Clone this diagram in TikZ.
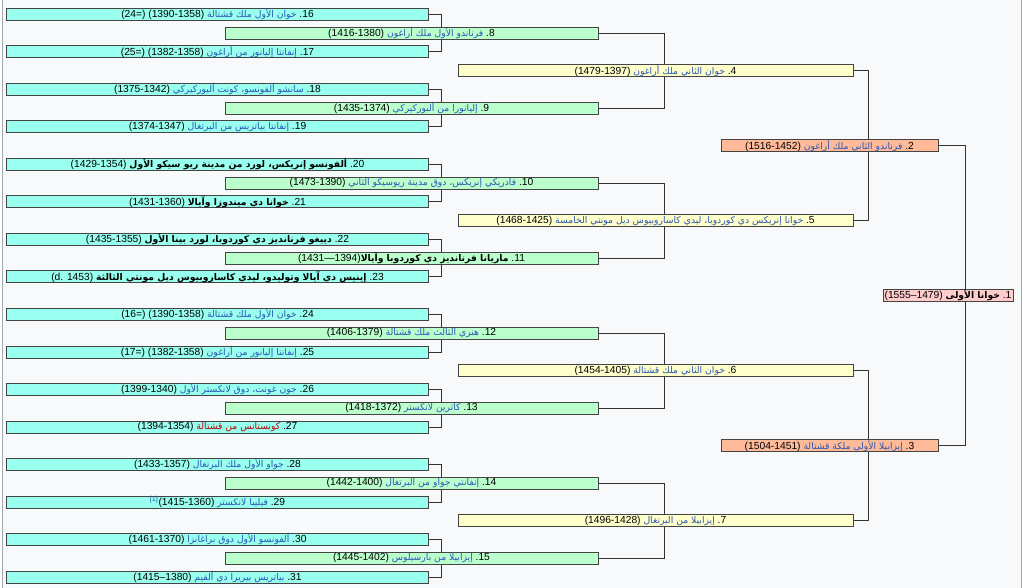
\documentclass[tikz,border=0pt]{standalone}
\usepackage{fontspec}
\setmainfont{Liberation Sans}
\newfontfamily\arabicfont[Script=Arabic,Scale=0.9]{DejaVu Sans}
\TeXXeTstate=1
\usepackage{tikz}
\pgfdeclarelayer{paper}
\pgfdeclarelayer{wires}
\pgfsetlayers{paper,wires,main}

\definecolor{pagebg}{HTML}{F8F9FA}
\definecolor{framecol}{HTML}{A2A9B1}
\definecolor{boxline}{HTML}{444444}
\definecolor{wirecol}{HTML}{333333}
\definecolor{col1}{HTML}{FFCCCC}
\definecolor{col2}{HTML}{FFBB99}
\definecolor{col3}{HTML}{FFFFCC}
\definecolor{col4}{HTML}{BBFFCC}
\definecolor{col5}{HTML}{99FFEE}
\definecolor{linkblue}{HTML}{2A55B5}
\definecolor{linkred}{HTML}{BA0000}

% arabic name spans
\newcommand{\lnk}[1]{{\color{linkblue}\arabicfont\beginR #1\endR}}
\newcommand{\redlnk}[1]{{\color{linkred}\arabicfont\beginR #1\endR}}
\newcommand{\bld}[1]{{\arabicfont\bfseries\beginR #1\endR}}

\tikzset{
  person/.style={draw=boxline, line width=0.25mm, inner sep=0pt, outer sep=0pt,
    minimum height=3mm, font=\fontsize{7.3}{8}\selectfont},
  gen1/.style={person, fill=col1, minimum width=32.5mm},
  gen2/.style={person, fill=col2, minimum width=54.25mm},
  gen3/.style={person, fill=col3, minimum width=98.75mm},
  gen4/.style={person, fill=col4, minimum width=93.25mm},
  gen5/.style={person, fill=col5, minimum width=105.25mm},
  wire/.style={draw=wirecol, line width=0.25mm},
}

\begin{document}
\begin{tikzpicture}[x=0.25mm,y=-0.25mm]
    \useasboundingbox (0,0) rectangle (1024,588);
    \begin{pgfonlayer}{paper}
      \fill[pagebg] (2,0) rectangle (1021.5,588);
      \draw[framecol,line width=0.25mm] (2,0) -- (2,588) (1021.5,0) -- (1021.5,588);
    \end{pgfonlayer}
        \pgfmathsetmacro{\xa}{948}
        \pgfmathsetmacro{\xb}{829.5}
        \pgfmathsetmacro{\xc}{655.5}
        \pgfmathsetmacro{\xd}{411.5}
        \pgfmathsetmacro{\xe}{217.5}
    % generation 1 and 2
    \node[gen1] (p1) at (\xa,295.75) {(1555–1479) \bld{خوانا الأولى} .1};
    \node[gen2] (p2) at (\xb,145.75) {(1516-1452) \lnk{فرناندو الثاني ملك أراغون} .2};
    \node[gen2] (p3) at (\xb,445.75) {(1504-1451) \lnk{إيزابيلا الأولى ملكة قشتالة} .3};
    % generation 3
    \node[gen3] (p4) at (\xc,70.75) {(1479-1397) \lnk{خوان الثاني ملك أراغون} .4};
    \node[gen3] (p5) at (\xc,220.75) {(1468-1425) \lnk{خوانا إنريكس دي كوردوبا، ليدي كاساروبيوس ديل مونتي الخامسة} .5};
    \node[gen3] (p6) at (\xc,370.75) {(1454-1405) \lnk{خوان الثاني ملك قشتالة} .6};
    \node[gen3] (p7) at (\xc,520.75) {(1496-1428) \lnk{إيزابيلا من البرتغال} .7};
    % generation 4
    \node[gen4] (p8) at (\xd,33.25) {(1416-1380) \lnk{فرناندو الأول ملك أراغون} .8};
    \node[gen4] (p9) at (\xd,108.25) {(1435-1374) \lnk{إليانورا من ألبوركيركي} .9};
    \node[gen4] (p10) at (\xd,183.25) {(1473-1390) \lnk{فادريكي إنريكس، دوق مدينة ريوسيكو الثاني} .10};
    \node[gen4] (p11) at (\xd,258.25) {(1431—1394)\bld{ماريانا فرنانديز دي كوردوبا وآيالا} .11};
    \node[gen4] (p12) at (\xd,333.25) {(1406-1379) \lnk{هنري الثالث ملك قشتالة} .12};
    \node[gen4] (p13) at (\xd,408.25) {(1418-1372) \lnk{كاثرين لانكستر} .13};
    \node[gen4] (p14) at (\xd,483.25) {(1442-1400) \lnk{إنفانتي جواو من البرتغال} .14};
    \node[gen4] (p15) at (\xd,558.25) {(1445-1402) \lnk{إيزابيلا من بارسيلوس} .15};
    % generation 5
    \node[gen5] (p16) at (\xe,14.5) {(24=) (1390-1358) \lnk{خوان الأول ملك قشتالة} .16};
    \node[gen5] (p17) at (\xe,52) {(25=) (1382-1358) \lnk{إنفانتا إليانور من أراغون} .17};
    \node[gen5] (p18) at (\xe,89.5) {(1375-1342) \lnk{سانشو ألفونسو، كونت ألبوركيركي} .18};
    \node[gen5] (p19) at (\xe,127) {(1374-1347) \lnk{إنفانتا بياتريس من البرتغال} .19};
    \node[gen5] (p20) at (\xe,164.5) {(1429-1354) \bld{ألفونسو إنريكس، لورد من مدينة ريو سيكو الأول} .20};
    \node[gen5] (p21) at (\xe,202) {(1431-1360) \bld{خوانا دي ميندوزا وآيالا} .21};
    \node[gen5] (p22) at (\xe,239.5) {(1435-1355) \bld{دييغو فرنانديز دي كوردوبا، لورد بينا الأول} .22};
    \node[gen5] (p23) at (\xe,277) {(d. 1453) \bld{إينيس دي آيالا وتوليدو، ليدي كاساروبيوس ديل مونتي الثالثة} .23};
    \node[gen5] (p24) at (\xe,314.5) {(16=) (1390-1358) \lnk{خوان الأول ملك قشتالة} .24};
    \node[gen5] (p25) at (\xe,352) {(17=) (1382-1358) \lnk{إنفانتا إليانور من أراغون} .25};
    \node[gen5] (p26) at (\xe,389.5) {(1399-1340) \lnk{جون غونت، دوق لانكستر الأول} .26};
    \node[gen5] (p27) at (\xe,427) {(1394-1354) \redlnk{كونستانس من قشتالة} .27};
    \node[gen5] (p28) at (\xe,464.5) {(1433-1357) \lnk{جواو الأول ملك البرتغال} .28};
    \node[gen5] (p29) at (\xe,502) {\textsuperscript{\color{linkblue}[1]}(1415-1360) \lnk{فيليبا لانكستر} .29};
    \node[gen5] (p30) at (\xe,539.5) {(1461-1370) \lnk{ألفونسو الأول دوق براغانزا} .30};
    \node[gen5] (p31) at (\xe,577) {(1415–1380) \lnk{بياتريس بيريرا دي ألفيم} .31};
    % brackets behind the boxes
    \begin{pgfonlayer}{wires}
      \foreach \a/\b in {16/17,18/19,20/21,22/23,24/25,26/27,28/29,30/31}
        \draw[wire] (p\a.east) -- ++(13,0) |- (p\b.east);
      \foreach \a/\b in {8/9,10/11,12/13,14/15}
        \draw[wire] (p\a.east) -- ++(66.5,0) |- (p\b.east);
      \foreach \a/\b in {4/5,6/7}
        \draw[wire] (p\a.east) -- ++(15,0) |- (p\b.east);
      \draw[wire] (p2.east) -- ++(27.7,0) |- (p3.east);
    \end{pgfonlayer}
\end{tikzpicture}
\end{document}
